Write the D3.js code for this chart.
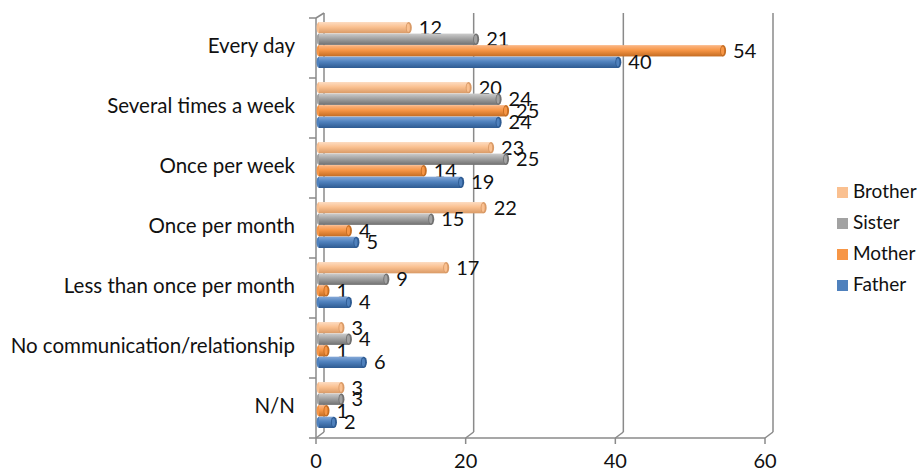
<!DOCTYPE html>
<html>
<head>
<meta charset="utf-8">
<script src="https://cdn.jsdelivr.net/npm/d3@7"></script>
<style>
  body { margin: 0; background: #fff; }
  text { font-family: Lato, "Open Sans", sans-serif; fill: #111; }
</style>
</head>
<body>
<div id="svgBody"></div>
<script>
// data
var categories = ["Every day", "Several times a week", "Once per week", "Once per month",
                  "Less than once per month", "No communication/relationship", "N/N"];
var series = ["Brother", "Sister", "Mother", "Father"];
var brother = [12, 20, 23, 22, 17, 3, 3];
var sister  = [21, 24, 25, 15, 9, 4, 3];
var mother  = [54, 25, 14, 4, 1, 1, 1];
var father  = [40, 24, 19, 5, 4, 6, 2];
var xTicks = [0, 20, 40, 60];

var values = { Brother: brother, Sister: sister, Mother: mother, Father: father };
var colors = {
  Brother: ["#fddcc2", "#fac090", "#d99a66"],
  Sister:  ["#cdcdcd", "#a2a2a2", "#707070"],
  Mother:  ["#fbb888", "#f79646", "#c46c22"],
  Father:  ["#86a9d8", "#4f81bd", "#2d5a91"]
};

var width = 923, height = 474;
var depth = { dx: 8, dy: -6 };   // 3d wall offset

var svg = d3.select("#svgBody")
    .append("svg")
    .attr("width", width)
    .attr("height", height);

var x = d3.scaleLinear().domain([0, 60]).range([316, 765]);
var y0 = d3.scaleBand().domain(categories).range([18, 438]);
var y1 = d3.scaleBand().domain(series).range([7, 53]).paddingInner(0.02);

// gradients for the cylinder look
var defs = svg.append("defs");
series.forEach(function(s) {
  var g = defs.append("linearGradient")
      .attr("id", "grad" + s)
      .attr("x1", 0).attr("y1", 0).attr("x2", 0).attr("y2", 1);
  g.append("stop").attr("offset", "0%").attr("stop-color", colors[s][0]);
  g.append("stop").attr("offset", "45%").attr("stop-color", colors[s][1]);
  g.append("stop").attr("offset", "100%").attr("stop-color", colors[s][2]);
});

var gridColor = "#8a8a8a";

// back wall gridlines
svg.append("g").selectAll("line")
  .data(xTicks)
  .enter().append("line")
  .attr("x1", function(d) { return x(d) + depth.dx; })
  .attr("x2", function(d) { return x(d) + depth.dx; })
  .attr("y1", 13)
  .attr("y2", 438 + depth.dy)
  .attr("stroke", gridColor)
  .attr("stroke-width", 1.5);

// floor diagonals
svg.append("g").selectAll("line")
  .data(xTicks)
  .enter().append("line")
  .attr("x1", function(d) { return x(d); })
  .attr("x2", function(d) { return x(d) + depth.dx; })
  .attr("y1", 438)
  .attr("y2", 438 + depth.dy)
  .attr("stroke", gridColor)
  .attr("stroke-width", 1.5);

// left axis front line + top diagonal
svg.append("line")
  .attr("x1", x(0)).attr("x2", x(0))
  .attr("y1", 18).attr("y2", 438)
  .attr("stroke", gridColor).attr("stroke-width", 1.5);
svg.append("line")
  .attr("x1", x(0)).attr("x2", x(0) + depth.dx)
  .attr("y1", 18).attr("y2", 13)
  .attr("stroke", gridColor).attr("stroke-width", 1.5);

// category ticks
var bounds = categories.map(function(c) { return y0(c); }).concat([438]);
svg.append("g").selectAll("line")
  .data(bounds)
  .enter().append("line")
  .attr("x1", x(0) - 7).attr("x2", x(0))
  .attr("y1", function(d) { return d; })
  .attr("y2", function(d) { return d; })
  .attr("stroke", gridColor).attr("stroke-width", 1.5);

// bottom axis
svg.append("line")
  .attr("x1", x(0)).attr("x2", x(60))
  .attr("y1", 438).attr("y2", 438)
  .attr("stroke", gridColor).attr("stroke-width", 1.5);
svg.append("g").selectAll("line")
  .data(xTicks)
  .enter().append("line")
  .attr("x1", function(d) { return x(d); })
  .attr("x2", function(d) { return x(d); })
  .attr("y1", 438).attr("y2", 444)
  .attr("stroke", gridColor).attr("stroke-width", 1.5);
svg.append("g").selectAll("text")
  .data(xTicks)
  .enter().append("text")
  .attr("x", function(d) { return x(d); })
  .attr("y", 463)
  .attr("text-anchor", "middle")
  .attr("dominant-baseline", "middle")
  .style("font-size", "20px")
  .text(function(d) { return d; });

// category labels
svg.append("g").selectAll("text")
  .data(categories)
  .enter().append("text")
  .attr("x", 295)
  .attr("y", function(d) { return y0(d) + y0.bandwidth() / 2; })
  .attr("text-anchor", "end")
  .attr("dominant-baseline", "middle")
  .style("font-size", "20.5px")
  .text(function(d) { return d; });

// bars
var bars = [];
categories.forEach(function(c, i) {
  series.forEach(function(s) {
    bars.push({ cat: c, s: s, v: values[s][i] });
  });
});

var off = { dx: 3, dy: -3 };
var bh = y1.bandwidth();

var bg = svg.append("g").selectAll("g")
  .data(bars)
  .enter().append("g")
  .attr("transform", function(d) {
    return "translate(0," + (y0(d.cat) + y1(d.s) + off.dy) + ")";
  });

bg.append("ellipse")
  .attr("cx", x(0) + off.dx)
  .attr("cy", bh / 2)
  .attr("rx", 2.5)
  .attr("ry", bh / 2)
  .attr("fill", function(d) { return colors[d.s][1]; });

bg.append("rect")
  .attr("x", x(0) + off.dx)
  .attr("y", 0)
  .attr("width", function(d) { return Math.max(0, x(d.v) - x(0)); })
  .attr("height", bh)
  .attr("fill", function(d) { return "url(#grad" + d.s + ")"; });

bg.append("ellipse")
  .attr("cx", function(d) { return x(d.v) + off.dx; })
  .attr("cy", bh / 2)
  .attr("rx", 3)
  .attr("ry", bh / 2)
  .attr("fill", function(d) { return colors[d.s][2]; });

bg.append("ellipse")
  .attr("cx", function(d) { return x(d.v) + off.dx - 0.5; })
  .attr("cy", bh / 2)
  .attr("rx", 1.6)
  .attr("ry", bh / 2 - 1.5)
  .attr("fill", function(d) { return colors[d.s][1]; });

bg.append("text")
  .attr("x", function(d) { return x(d.v) + off.dx + 10; })
  .attr("y", bh / 2 + 2)
  .attr("dominant-baseline", "middle")
  .style("font-size", "20px")
  .text(function(d) { return d.v; });

// legend
var leg = svg.append("g").selectAll("g")
  .data(series)
  .enter().append("g")
  .attr("transform", function(d, i) { return "translate(837," + (193 + i * 31) + ")"; });
leg.append("rect")
  .attr("x", 0).attr("y", -6)
  .attr("width", 11).attr("height", 11)
  .attr("fill", function(d) { return colors[d][1]; });
leg.append("text")
  .attr("x", 16).attr("y", 0)
  .attr("dominant-baseline", "middle")
  .style("font-size", "19px")
  .text(function(d) { return d; });
</script>
</body>
</html>
